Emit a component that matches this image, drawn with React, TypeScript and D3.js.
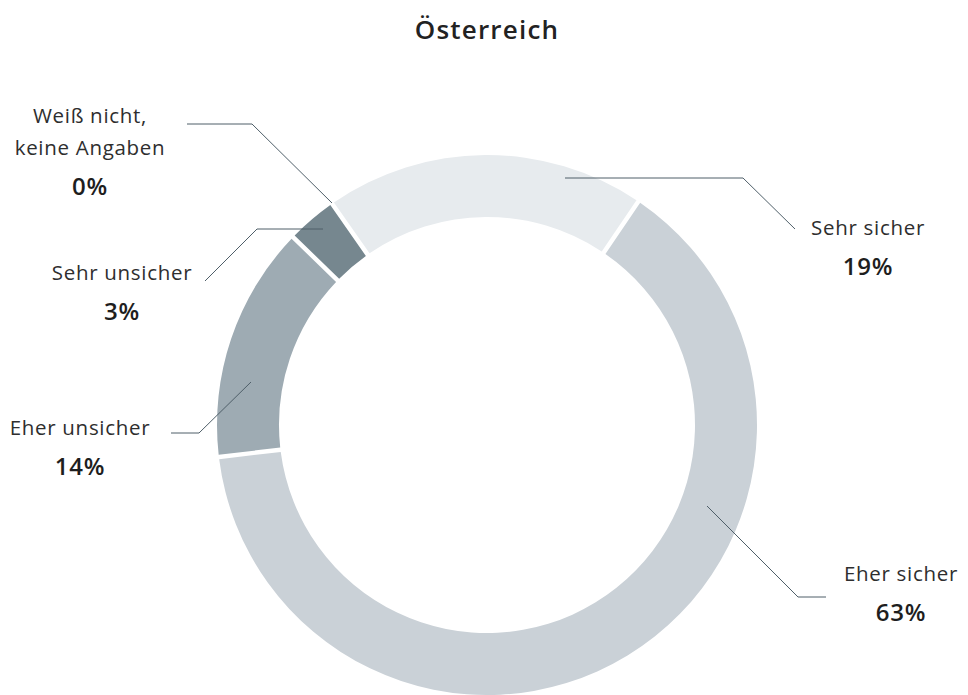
import * as d3 from "d3";
import React, { useEffect, useRef } from "react";

// data
const categories = ["Sehr sicher", "Eher sicher", "Eher unsicher", "Sehr unsicher", "Weiß nicht, keine Angaben"];
const values = [19, 63, 14, 3, 0];
const colors = ["#e7ebee", "#cad1d7", "#9eabb3", "#76878f", "#5d6d75"];
const title = "Österreich";

// label layout: text lines, anchor point and leader polyline
const labelLayout = [
  { lines: ["Sehr sicher"], x: 868, y: 235, leader: [[565, 178], [743, 178], [795, 229]] },
  { lines: ["Eher sicher"], x: 901, y: 581, leader: [[707, 506], [798, 597], [826, 597]] },
  { lines: ["Eher unsicher"], x: 80, y: 435, leader: [[251, 382], [199, 433], [171, 433]] },
  { lines: ["Sehr unsicher"], x: 122, y: 280, leader: [[323, 229], [257, 229], [205, 281]] },
  { lines: ["Weiß nicht,", "keine Angaben"], x: 90, y: 123, leader: [[332, 203], [252, 124], [187, 124]] },
];

const App = () => {
  const ref = useRef<SVGSVGElement | null>(null);

  useEffect(() => {
    const width = 968;
    const height = 695;
    const cx = 487;
    const cy = 425;
    const outer = 270;
    const inner = 208;

    const svg = d3.select(ref.current);
    svg.selectAll("*").remove();
    svg.attr("width", width).attr("height", height);

    const font = "'Open Sans', sans-serif";

    svg
      .append("text")
      .attr("x", cx)
      .attr("y", 39)
      .attr("text-anchor", "middle")
      .attr("font-family", font)
      .attr("font-size", 26)
      .attr("font-weight", 600)
      .attr("letter-spacing", 1.2)
      .attr("fill", "#222")
      .text(title);

    const data = categories.map((c, i) => ({ name: c, value: values[i], color: colors[i], layout: labelLayout[i] }));

    const start = (-35 * Math.PI) / 180;
    const pie = d3
      .pie<any>()
      .sort(null)
      .value((d) => d.value)
      .startAngle(start)
      .endAngle(start + 2 * Math.PI);

    const arc = d3
      .arc<any>()
      .innerRadius(inner)
      .outerRadius(outer)
      .padAngle(0.0165)
      .padRadius(outer);

    const g = svg.append("g").attr("transform", `translate(${cx},${cy})`);
    g.selectAll("path")
      .data(pie(data).filter((d) => d.data.value > 0))
      .enter()
      .append("path")
      .attr("d", arc)
      .attr("fill", (d) => d.data.color);

    const line = d3.line();
    data.forEach((d) => {
      const l = d.layout;
      svg
        .append("path")
        .attr("d", line(l.leader as [number, number][]))
        .attr("fill", "none")
        .attr("stroke", "#4f5f69")
        .attr("stroke-width", 1);

      const t = svg.append("g");
      l.lines.forEach((s, k) => {
        t.append("text")
          .attr("x", l.x)
          .attr("y", l.y + k * 32)
          .attr("text-anchor", "middle")
          .attr("font-family", font)
          .attr("font-size", 20.5)
          .attr("letter-spacing", 0.7)
          .attr("fill", "#2e2e2e")
          .text(s);
      });
      t.append("text")
        .attr("x", l.x)
        .attr("y", l.y + (l.lines.length - 1) * 32 + 40)
        .attr("text-anchor", "middle")
        .attr("font-family", font)
        .attr("font-size", 24)
        .attr("font-weight", 600)
        .attr("letter-spacing", 0.8)
        .attr("fill", "#1e1e1e")
        .text(`${d.value}%`);
    });
  }, []);

  return <svg ref={ref} style={{ position: "absolute", left: 0, top: 0, background: "#fff" }} />;
};

export default App;
